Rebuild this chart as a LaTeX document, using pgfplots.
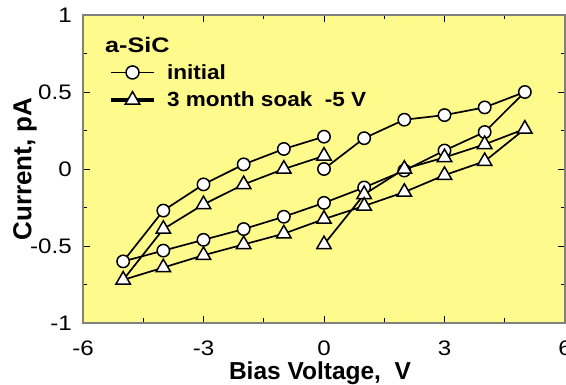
\documentclass[border=0pt]{standalone}
\usepackage{fontspec}
\setmainfont{Liberation Sans}
\newfontfamily\tickfont{Liberation Sans}[FakeStretch=1.15]
\newfontfamily\legfont{Liberation Sans}[FakeStretch=1.1]
\newfontfamily\titlefont{Liberation Sans}[FakeStretch=1.2]
\usepackage{pgfplots}
\pgfplotsset{compat=1.18}
\definecolor{bgyellow}{RGB}{255,250,140}
\definecolor{axgray}{RGB}{128,128,128}
\begin{document}
\begin{tikzpicture}
\begin{axis}[
  scale only axis, width=482pt, height=308pt,
  xmin=-6, xmax=6, ymin=-1, ymax=1,
  xtick={-6,-3,0,3,6}, xticklabels={-6,-3,0,3,6},
  ytick={-1,-0.5,0,0.5,1}, yticklabels={-1,-0.5,0,0.5,1},
  minor xtick={-4.5,-1.5,1.5,4.5}, minor ytick={-0.75,-0.25,0.25,0.75},
  tick align=inside, major tick length=7pt, minor tick length=4.5pt,
  every tick/.style={black, line width=0.8pt},
  axis line style={axgray, line width=1.6pt},
  axis background/.style={fill=bgyellow},
  xticklabel style={font=\tickfont\fontsize{21}{21}\selectfont, anchor=north, inner sep=0pt, yshift=-18pt},
  yticklabel style={font=\tickfont\fontsize{21}{21}\selectfont, anchor=east, inner sep=0pt, xshift=-11pt},
  every axis x label/.style={at={(axis description cs:0.4917,-0.1266)}, anchor=north, inner sep=0pt, font=\bfseries\fontsize{24.5}{24.5}\selectfont},
  every axis y label/.style={at={(axis description cs:-0.1452,0.5)}, rotate=90, anchor=north, inner sep=0pt, font=\bfseries\fontsize{26}{26}\selectfont},
  xlabel={Bias Voltage,\ \ V},
  ylabel={Current, pA},
  legend style={at={(axis description cs:0.054,0.84)}, anchor=north west,
    draw=none, fill=none, inner sep=0pt, outer sep=0pt,
    font=\legfont\bfseries\fontsize{20.5}{20.5}\selectfont,
    row sep=11pt, nodes={inner sep=0pt, outer sep=0pt},
    /tikz/every odd column/.append style={column sep=11pt}},
  legend cell align=left,
  legend image code/.code={\draw[mark repeat=2,mark phase=2,#1] plot coordinates {(0pt,0pt) (21.5pt,0pt) (43pt,0pt)};},
]
\coordinate (sw) at (rel axis cs:0,0);
\coordinate (ne) at (rel axis cs:1,1);
\addplot[black, line width=1.7pt, mark=*, mark size=6.2pt, mark options={fill=white, line width=1.5pt}, forget plot] coordinates {
(0,0.00) (1,0.20) (2,0.32) (3,0.35) (4,0.40) (5,0.50) (4,0.24) (3,0.12) (2,-0.01) (1,-0.12) (0,-0.22) (-1,-0.31) (-2,-0.39) (-3,-0.46) (-4,-0.53) (-5,-0.60) (-4,-0.27) (-3,-0.10) (-2,0.03) (-1,0.13) (0,0.21)
};
\addplot[black, line width=1.7pt, mark=triangle*, mark size=8.3pt, mark options={fill=white, line width=1.5pt}, forget plot] coordinates {
(0,-0.49) (1,-0.165) (2,0.00) (3,0.075) (4,0.16) (5,0.26) (4,0.05) (3,-0.04) (2,-0.15) (1,-0.24) (0,-0.325) (-1,-0.42) (-2,-0.49) (-3,-0.56) (-4,-0.64) (-5,-0.72) (-4,-0.39) (-3,-0.23) (-2,-0.10) (-1,0.00) (0,0.085)
};
\addlegendimage{black, line width=1.7pt, mark=*, mark size=6.5pt, mark options={fill=white, line width=1.5pt}}
\addlegendentry{initial}
\addlegendimage{black, line width=4pt, mark=triangle*, mark size=8.3pt, mark options={fill=white, line width=1.5pt}}
\addlegendentry{3 month soak\ \ -5 V}
\node[anchor=west, inner sep=0pt, font=\titlefont\bfseries\fontsize{21}{21}\selectfont] at (axis description cs:0.0456,0.901) {a-SiC};
\end{axis}
\pgfresetboundingbox
\useasboundingbox ([shift={(-83pt,-62pt)}]sw) rectangle ([shift={(1pt,15pt)}]ne);
\end{tikzpicture}
\end{document}
